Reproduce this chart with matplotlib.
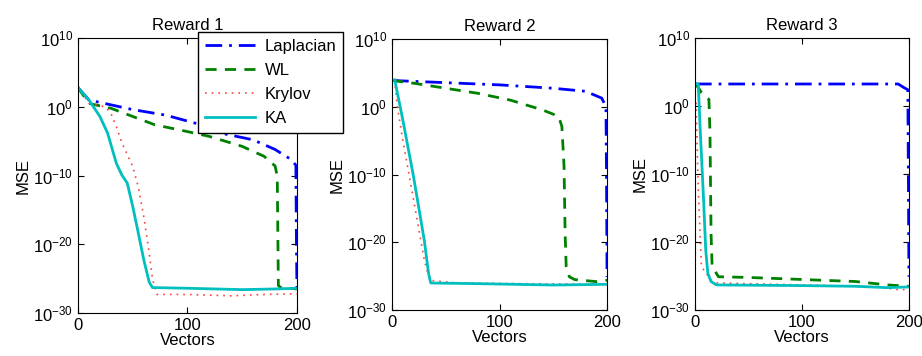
import numpy as np
import matplotlib
matplotlib.use('Agg')
import matplotlib.pyplot as plt

plt.rcParams['font.family'] = ['Liberation Sans', 'DejaVu Sans']
plt.rcParams['mathtext.fontset'] = 'custom'
plt.rcParams['mathtext.rm'] = 'Liberation Sans'

# log10(MSE), per panel and method
# Reward 1
r1_lap_x = [0, 10, 30, 50, 80, 110, 130, 160, 180, 195, 199, 199.5, 200]
r1_lap_y = [2.8, 1.0, 0.3, -0.4, -1.2, -2.5, -3.8, -4.8, -6.2, -7.7, -8.5, -20, -26.8]
r1_wl_x = [0, 10, 30, 50, 70, 100, 120, 150, 170, 180, 182, 183, 185, 200]
r1_wl_y = [2.8, 0.5, -0.2, -1.4, -2.6, -3.6, -4.3, -5.75, -7.2, -8.6, -10.1, -26.0, -26.3, -26.5]
r1_kry_x = [0, 10, 25, 30, 35, 40, 50, 55, 60, 65, 68, 72, 100, 140, 170, 200]
r1_kry_y = [3.0, 0.5, 0.0, -0.9, -2.9, -5.2, -8.7, -11.6, -15.9, -21.2, -25.0, -27.3, -27.3, -27.5, -27.3, -27.2]
r1_ka_x = [0, 10, 20, 27, 35, 40, 45, 50, 55, 60, 65, 68, 100, 150, 180, 200]
r1_ka_y = [2.8, 1.0, -1.4, -3.8, -8.2, -9.9, -11.1, -14.5, -18.3, -22.2, -25.5, -26.3, -26.4, -26.6, -26.5, -26.4]

# Reward 2
r2_lap_x = [0, 100, 150, 180, 195, 199, 199.5, 200]
r2_lap_y = [3.9, 3.25, 2.75, 2.3, 1.3, 0.05, -10, -25.1]
r2_wl_x = [0, 20, 50, 80, 110, 140, 155, 158, 160, 161, 162, 165, 170, 190, 200]
r2_wl_y = [3.9, 3.5, 2.75, 2.0, 1.0, -0.45, -1.4, -2.9, -8.8, -18.7, -23.6, -25.1, -25.5, -25.8, -25.6]
r2_kry_x = [0, 3, 5, 10, 20, 30, 35, 60, 120, 200]
r2_kry_y = [3.9, 3.0, 0.0, -4.9, -13.7, -22.6, -25.6, -26.0, -26.1, -26.2]
r2_ka_x = [2.5, 10, 20, 30, 34, 36, 80, 150, 200]
r2_ka_y = [4.0, -1.9, -10.3, -19.7, -24.6, -26.0, -26.1, -26.3, -26.2]

# Reward 3
r3_lap_x = [0, 190, 195, 199, 199.5, 200]
r3_lap_y = [3.25, 3.25, 2.75, 2.4, -10, -25.1]
r3_wl_x = [0, 3, 6, 13, 14, 15, 16, 18, 22, 50, 100, 150, 180, 200]
r3_wl_y = [3.25, 2.75, 2.0, 1.0, -3.9, -18.7, -23.6, -24.1, -25.1, -25.2, -25.5, -25.8, -26.3, -26.5]
r3_kry_x = [1, 3, 6, 15, 20, 100, 170, 190, 200]
r3_kry_y = [0.5, -12, -23.6, -25.6, -26.0, -26.3, -26.6, -27.0, -27.0]
r3_ka_x = [0, 3, 5, 8, 10, 12, 15, 20, 100, 150, 180, 200]
r3_ka_y = [3.25, 3.25, -3.9, -13.7, -21.1, -24.6, -25.8, -26.3, -26.4, -26.5, -26.7, -26.6]

titles = ['Reward 1', 'Reward 2', 'Reward 3']
names = ['Laplacian', 'WL', 'Krylov', 'KA']
panels = [
    [(r1_lap_x, r1_lap_y), (r1_wl_x, r1_wl_y), (r1_kry_x, r1_kry_y), (r1_ka_x, r1_ka_y)],
    [(r2_lap_x, r2_lap_y), (r2_wl_x, r2_wl_y), (r2_kry_x, r2_kry_y), (r2_ka_x, r2_ka_y)],
    [(r3_lap_x, r3_lap_y), (r3_wl_x, r3_wl_y), (r3_kry_x, r3_kry_y), (r3_ka_x, r3_ka_y)],
]

styles = [
    dict(color='#0000ff', ls=(0, (6, 2.5, 1, 2.5)), lw=2),
    dict(color='#008000', ls=(0, (4, 3)), lw=2),
    dict(color='#ff4040', ls=(0, (1, 3)), lw=1.2),
    dict(color='#00bfbf', ls='-', lw=2),
]

positions = [
    [0.0846, 0.1208, 0.2375, 0.772],
    [0.4252, 0.1290, 0.2332, 0.761],
    [0.7538, 0.1290, 0.2320, 0.764],
]

fig = plt.figure(figsize=(9.22, 3.56), dpi=100)
handles = []
for i, (pos, series) in enumerate(zip(positions, panels)):
    ax = fig.add_axes(pos)
    for (xs, ys), st, name in zip(series, styles, names):
        h, = ax.plot(xs, 10.0 ** np.array(ys), label=name, **st)
        if i == 0:
            handles.append(h)
    ax.set_yscale('log')
    ax.set_xlim(0, 200)
    ax.set_ylim(1e-30, 1e10)
    ax.set_yticks([1e-30, 1e-20, 1e-10, 1e0, 1e10])
    ax.minorticks_off()
    ax.set_xticks([0, 100, 200])
    ax.tick_params(direction='in', top=True, right=True, labelsize=12, length=4)
    ax.set_title(titles[i], fontsize=12, pad=6)
    ax.set_xlabel('Vectors', fontsize=12, labelpad=0)
    ax.set_ylabel('MSE', fontsize=12, labelpad=2)

leg = fig.legend(handles=handles, loc='upper left', bbox_to_anchor=(0.2148, 0.91),
                 borderaxespad=0, fontsize=12, handlelength=3.0, handletextpad=0.6,
                 fancybox=False, framealpha=1, edgecolor='black',
                 borderpad=0.4, labelspacing=0.55)
leg.get_frame().set_linewidth(1.0)

fig.savefig('out.png', dpi=100)
